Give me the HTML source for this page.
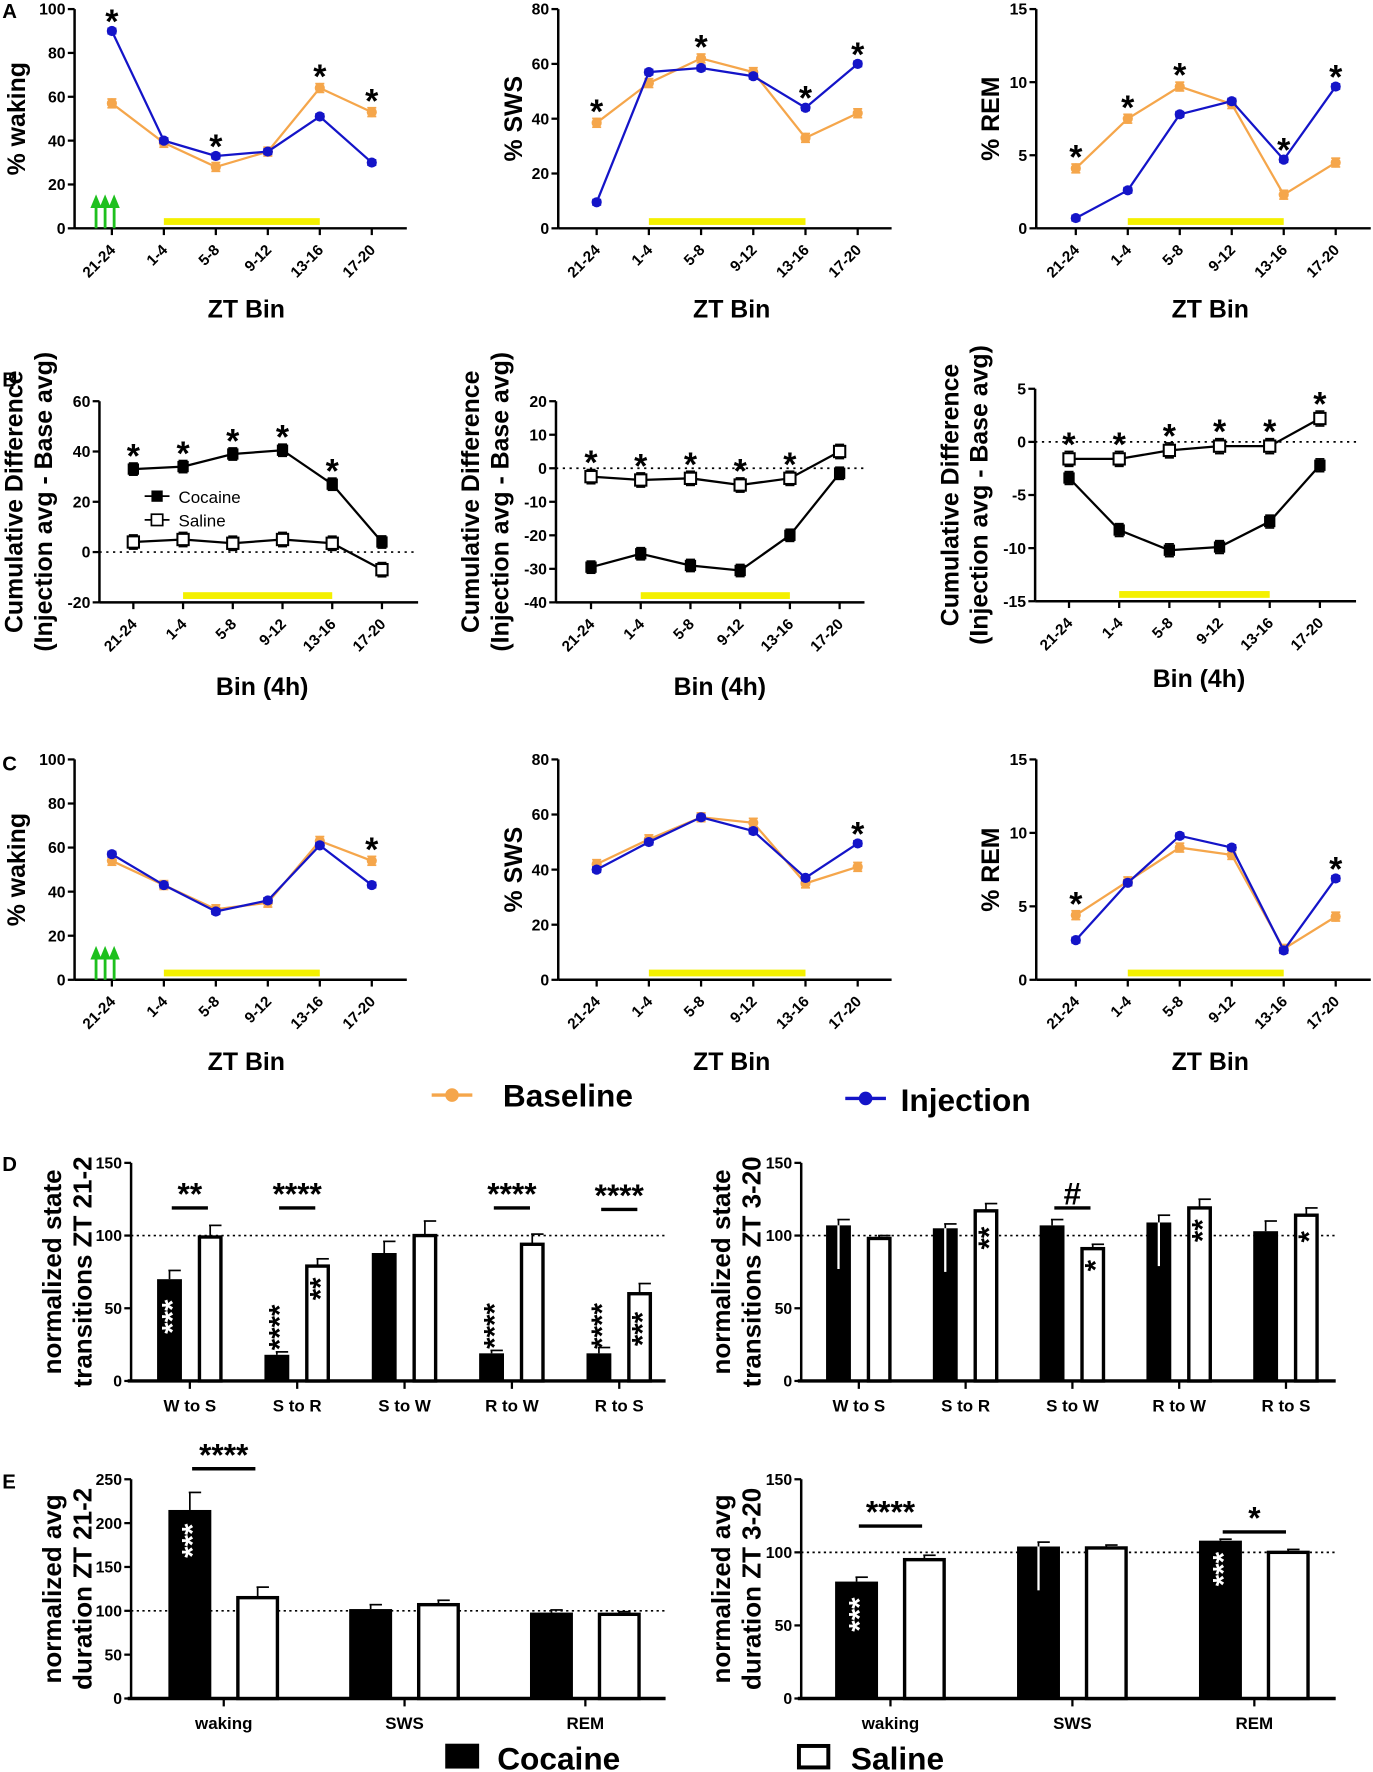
<!DOCTYPE html>
<html><head><meta charset="utf-8">
<style>
html,body{margin:0;padding:0;background:#fff;}
svg{display:block;font-family:"Liberation Sans",Arial,sans-serif;}
</style></head>
<body>
<svg id="fig" width="1373" height="1772" viewBox="0 0 1215 1568" xmlns="http://www.w3.org/2000/svg">
<rect width="1215" height="1568" fill="#fff"/>
</svg>
<script>
// ---------- DATA ----------
const bins = ["21-24","1-4","5-8","9-12","13-16","17-20"];
// Panel A
const aWakeBase = [57,39,28,35,64,53];
const aWakeInj  = [90,40,33,35,51,30];
const aSwsBase  = [38.5,53,62,57,33,42];
const aSwsInj   = [9.5,57,58.5,55.5,44,60];
const aRemBase  = [4.1,7.5,9.7,8.5,2.3,4.5];
const aRemInj   = [0.7,2.6,7.8,8.7,4.7,9.7];
const aWakeStars = [0,2,4,5];
const aSwsStars  = [0,2,4,5];
const aRemStars  = [0,1,2,4,5];
// Panel B
const bWakeCoc = [33,34,39,40.5,27,4];
const bWakeSal = [4,5,3.5,5,3.5,-7];
const bSwsCoc  = [-29.5,-25.5,-29,-30.5,-20,-1.5];
const bSwsSal  = [-2.5,-3.5,-3,-5,-3,5];
const bRemCoc  = [-3.4,-8.3,-10.2,-9.9,-7.5,-2.2];
const bRemSal  = [-1.6,-1.6,-0.8,-0.4,-0.4,2.2];
const bWakeStars = [0,1,2,3,4];
const bSwsStars  = [0,1,2,3,4];
const bRemStars  = [0,1,2,3,4,5];
// Panel C
const cWakeBase = [54,43,32,35,63,54];
const cWakeInj  = [57,43,31,36,61,43];
const cSwsBase  = [42,51,59,57,35,41];
const cSwsInj   = [40,50,59,54,37,49.5];
const cRemBase  = [4.4,6.7,9.0,8.5,2.1,4.3];
const cRemInj   = [2.7,6.6,9.8,9.0,2.0,6.9];
const cWakeStars = [5];
const cSwsStars  = [5];
const cRemStars  = [0,5];
// Panel D
const transCats = ["W to S","S to R","S to W","R to W","R to S"];
const d1Coc = [70,18,88,19,19];
const d1CocErr = [6,2,8,2,4];
const d1Sal = [99,79,100,94,60];
const d1SalErr = [8,5,10,7,7];
const d2Coc = [107,105,107,109,103];
const d2CocErr = [4,3,4,5,7];
const d2Sal = [98,117,91,119,114];
const d2SalErr = [2,5,3,6,5];
// Panel E
const stateCats = ["waking","SWS","REM"];
const e1Coc = [215,102,98];
const e1CocErr = [20,5,3];
const e1Sal = [115,107,96];
const e1SalErr = [12,5,3];
const e2Coc = [80,104,108];
const e2CocErr = [3,3,1];
const e2Sal = [95,103,100];
const e2SalErr = [3,2,2];

// ---------- HELPERS ----------
const NS="http://www.w3.org/2000/svg";
const svg=document.getElementById('fig');
function mk(tag,attrs,parent,text){
  const e=document.createElementNS(NS,tag);
  for(const k in attrs)e.setAttribute(k,attrs[k]);
  if(text!==undefined)e.textContent=text;
  (parent||svg).appendChild(e);return e;
}
const ORANGE="#f5a64b", BLUE="#1414c8";

function axes(g,c,ticks,fmt){
  const ys=v=>c.yBot-(v-c.min)/(c.max-c.min)*(c.yBot-c.yTop);
  const ax=mk('line',{x1:c.x0,y1:c.yTop,x2:c.x0,y2:c.yBot,stroke:'#000','stroke-width':2.2},g);
  
  
  ticks.forEach(t=>{
    const y=ys(t);
    mk('line',{x1:c.x0-6,y1:y,x2:c.x0,y2:y,stroke:'#000','stroke-width':2},g);
    const tl=mk('text',{x:c.x0-8,y:y+5,'text-anchor':'end','font-size':14,'font-weight':'bold'},g,fmt?fmt(t):t);
    
    
  });
  return ys;
}

function lineChart(c){
  const g=mk('g',{});
  
  
  const ys=axes(g,c,c.ticks);
  const xs=i=>c.xFirst+i*c.step;
  const xa=mk('line',{x1:c.x0,y1:c.yBot,x2:c.x1,y2:c.yBot,stroke:'#000','stroke-width':2.2},g);
  
  
  if(c.zeroLine){
    const zl=mk('line',{x1:c.x0,y1:ys(0),x2:c.x1,y2:ys(0),stroke:'#000','stroke-width':1.5,'stroke-dasharray':'2,4'},g);
    
    
  }
  bins.forEach((b,i)=>{
    const x=xs(i);
    mk('line',{x1:x,y1:c.yBot,x2:x,y2:c.yBot+6,stroke:'#000','stroke-width':2},g);
    const t=mk('text',{x:x+4,y:c.yBot+20,'text-anchor':'end','font-size':13.5,'font-weight':'bold',transform:`rotate(-45 ${x+4} ${c.yBot+20})`},g,b);
    
    
  });
  const yb=mk('rect',{x:xs(1),y:c.yBot-9,width:xs(4)-xs(1),height:6,fill:'#f4f000'},g);
  
  
  c.series.forEach(s=>{
    const pts=s.data.map((v,i)=>xs(i)+','+ys(v)).join(' ');
    const pl=mk('polyline',{points:pts,fill:'none',stroke:s.color,'stroke-width':2},g);
    
    
    s.data.forEach((v,i)=>{
      const x=xs(i),y=ys(v),e=(c.max-c.min)*s.err;
      mk('line',{x1:x,y1:ys(v+e),x2:x,y2:ys(v-e),stroke:s.color,'stroke-width':1.5},g);
      mk('line',{x1:x-4,y1:ys(v+e),x2:x+4,y2:ys(v+e),stroke:s.color,'stroke-width':1.5},g);
      mk('line',{x1:x-4,y1:ys(v-e),x2:x+4,y2:ys(v-e),stroke:s.color,'stroke-width':1.5},g);
      let m;
      if(s.marker==='circle') m=mk('circle',{cx:x,cy:y,r:4.5,fill:s.color},g);
      else if(s.marker==='fsq') m=mk('rect',{x:x-5,y:y-5,width:10,height:10,fill:'#000'},g);
      else m=mk('rect',{x:x-5,y:y-5,width:10,height:10,fill:'#fff',stroke:'#000','stroke-width':1.8},g);
      
      
    });
  });
  c.stars.forEach(i=>{
    const top=Math.max(...c.series.map(s=>s.data[i]+(c.max-c.min)*s.err));
    const st=mk('text',{x:xs(i),y:ys(top)+4,'text-anchor':'middle','font-size':30,'font-weight':'bold'},g,'*');
    
    
  });
  const cy=(c.yTop+c.yBot)/2;
  c.ytitle.forEach((t,k)=>{
    const x=c.ytx+k*26;
    const yt=mk('text',{x:x,y:c.yty||cy,'text-anchor':'middle','font-size':c.ytSize||22,'font-weight':'bold',transform:`rotate(-90 ${x} ${c.yty||cy})`},g,t);
    
    
  });
  const xt=mk('text',{x:(xs(0)+xs(5))/2+4,y:c.xty,'text-anchor':'middle','font-size':22,'font-weight':'bold'},g,c.xtitle);
  
  
  if(c.arrows){
    [85,93,101].forEach(ax=>{
      mk('line',{x1:ax,y1:c.yBot,x2:ax,y2:c.yBot-22,stroke:'#1ec01e','stroke-width':2.5},g);
      const ar=mk('polygon',{points:`${ax-5},${c.yBot-18} ${ax+5},${c.yBot-18} ${ax},${c.yBot-30}`,fill:'#1ec01e'},g);
      
      
    });
  }
}

function baseSeries(b,i){return [
  {name:'baseline',data:b,color:ORANGE,marker:'circle',err:0.02},
  {name:'injection',data:i,color:BLUE,marker:'circle',err:0.012}];}
function cocSeries(c,s){return [
  {name:'cocaine',data:c,color:'#000',marker:'fsq',err:0.03},
  {name:'saline',data:s,color:'#000',marker:'osq',err:0.035}];}

// Row A
lineChart({name:'chart-a-waking',x0:66,x1:360,yTop:8,yBot:202,min:0,max:100,ticks:[0,20,40,60,80,100],xFirst:99,step:46,series:baseSeries(aWakeBase,aWakeInj),stars:aWakeStars,ytitle:['% waking'],ytx:22,xtitle:'ZT Bin',xty:281,arrows:true});
lineChart({name:'chart-a-sws',x0:494,x1:789,yTop:8,yBot:202,min:0,max:80,ticks:[0,20,40,60,80],xFirst:528,step:46.2,series:baseSeries(aSwsBase,aSwsInj),stars:aSwsStars,ytitle:['% SWS'],ytx:462,xtitle:'ZT Bin',xty:281});
lineChart({name:'chart-a-rem',x0:917,x1:1213,yTop:8,yBot:202,min:0,max:15,ticks:[0,5,10,15],xFirst:952,step:46,series:baseSeries(aRemBase,aRemInj),stars:aRemStars,ytitle:['% REM'],ytx:884,xtitle:'ZT Bin',xty:281});
// Row B
lineChart({name:'chart-b-waking',x0:88,x1:370,yTop:355,yBot:533,min:-20,max:60,ticks:[-20,0,20,40,60],xFirst:118,step:44,series:cocSeries(bWakeCoc,bWakeSal),stars:bWakeStars,ytitle:['Cumulative Difference','(Injection avg - Base avg)'],ytx:20,yty:444,xtitle:'Bin (4h)',xty:615,zeroLine:true});
lineChart({name:'chart-b-sws',x0:492,x1:765,yTop:355,yBot:533,min:-40,max:20,ticks:[-40,-30,-20,-10,0,10,20],xFirst:523,step:44,series:cocSeries(bSwsCoc,bSwsSal),stars:bSwsStars,ytitle:['Cumulative Difference','(Injection avg - Base avg)'],ytx:424,yty:444,xtitle:'Bin (4h)',xty:615,zeroLine:true});
lineChart({name:'chart-b-rem',x0:916,x1:1200,yTop:344,yBot:532,min:-15,max:5,ticks:[-15,-10,-5,0,5],xFirst:946,step:44.4,series:cocSeries(bRemCoc,bRemSal),stars:bRemStars,ytitle:['Cumulative Difference','(Injection avg - Base avg)'],ytx:848,yty:438,xtitle:'Bin (4h)',xty:608,zeroLine:true});
// Row C
lineChart({name:'chart-c-waking',x0:66,x1:360,yTop:672,yBot:867,min:0,max:100,ticks:[0,20,40,60,80,100],xFirst:99,step:46,series:baseSeries(cWakeBase,cWakeInj),stars:cWakeStars,ytitle:['% waking'],ytx:22,xtitle:'ZT Bin',xty:947,arrows:true});
lineChart({name:'chart-c-sws',x0:494,x1:789,yTop:672,yBot:867,min:0,max:80,ticks:[0,20,40,60,80],xFirst:528,step:46.2,series:baseSeries(cSwsBase,cSwsInj),stars:cSwsStars,ytitle:['% SWS'],ytx:462,xtitle:'ZT Bin',xty:947});
lineChart({name:'chart-c-rem',x0:917,x1:1213,yTop:672,yBot:867,min:0,max:15,ticks:[0,5,10,15],xFirst:952,step:46,series:baseSeries(cRemBase,cRemInj),stars:cRemStars,ytitle:['% REM'],ytx:884,xtitle:'ZT Bin',xty:947});

// panel letters
[['A',2,16],['B',2,342],['C',2,682],['D',2,1036],['E',2,1317]].forEach(([l,x,y])=>{
  const t=mk('text',{x:x,y:y,'font-size':18,'font-weight':'bold'},svg,l);
  
  
});

// middle legend
(function(){
  const g=mk('g',{});
  
  
  mk('line',{x1:382,y1:969,x2:418,y2:969,stroke:ORANGE,'stroke-width':3},g);
  mk('circle',{cx:400,cy:969,r:6,fill:ORANGE},g);
  const t1=mk('text',{x:445,y:979,'font-size':28,'font-weight':'bold'},g,'Baseline');
  
  
  mk('line',{x1:748,y1:972,x2:784,y2:972,stroke:BLUE,'stroke-width':3},g);
  mk('circle',{cx:766,cy:972,r:6,fill:BLUE},g);
  const t2=mk('text',{x:797,y:983,'font-size':28,'font-weight':'bold'},g,'Injection');
  
  
})();

// legend inside B1
(function(){
  const g=mk('g',{});
  
  
  mk('line',{x1:128,y1:439,x2:150,y2:439,stroke:'#000','stroke-width':1.5},g);
  mk('rect',{x:134,y:434,width:10,height:10,fill:'#000'},g);
  mk('text',{x:158,y:445,'font-size':15},g,'Cocaine');
  mk('line',{x1:128,y1:460,x2:150,y2:460,stroke:'#000','stroke-width':1.5},g);
  mk('rect',{x:134,y:455,width:10,height:10,fill:'#fff',stroke:'#000','stroke-width':1.5},g);
  mk('text',{x:158,y:466,'font-size':15},g,'Saline');
})();

// ---------- BAR CHARTS ----------
function barChart(c){
  const g=mk('g',{});
  
  
  const ys=axes(g,c,c.ticks);
  const xs=i=>c.xFirst+i*c.step;
  const xa=mk('line',{x1:c.x0-3,y1:c.yBot,x2:c.x1,y2:c.yBot,stroke:'#000','stroke-width':3},g);
  
  
  const rl=mk('line',{x1:c.x0,y1:ys(100),x2:c.x1,y2:ys(100),stroke:'#000','stroke-width':1.5,'stroke-dasharray':'2,3'},g);
  
  
  c.cats.forEach((cat,i)=>{
    const x=xs(i);
    mk('line',{x1:x,y1:c.yBot,x2:x,y2:c.yBot+7,stroke:'#000','stroke-width':2},g);
    const t=mk('text',{x:x,y:c.yBot+27,'text-anchor':'middle','font-size':15,'font-weight':'bold'},g,cat);
    
    
    const cx=x-c.off, sx=x+c.off, w=c.bw;
    const eb=(v,e,bx)=>{
      mk('line',{x1:bx,y1:ys(v),x2:bx,y2:ys(v+e),stroke:'#000','stroke-width':1.5},g);
      mk('line',{x1:bx-1,y1:ys(v+e),x2:bx+10,y2:ys(v+e),stroke:'#000','stroke-width':1.5},g);
    };
    eb(c.coc[i],c.cocErr[i],cx);
    const b1=mk('rect',{x:cx-w/2,y:ys(c.coc[i]),width:w,height:c.yBot-ys(c.coc[i]),fill:'#000'},g);
    
    
    if(c.whiteErr && c.whiteErr.includes(i)){
      mk('line',{x1:cx,y1:ys(c.coc[i]),x2:cx,y2:ys(c.coc[i]-30),stroke:'#fff','stroke-width':2},g);
    }
    eb(c.sal[i],c.salErr[i],sx);
    const b2=mk('rect',{x:sx-w/2+1.5,y:ys(c.sal[i]),width:w-3,height:c.yBot-ys(c.sal[i]),fill:'#fff',stroke:'#000','stroke-width':3},g);
    
    
  });
  c.inStars.forEach(s=>{
    const bx=xs(s.i)+(s.sal?c.off:-c.off);
    const v=s.sal?c.sal[s.i]:c.coc[s.i];
    // anchor point along bar axis
    const y= s.above ? ys(v)-4 : ys(v)+(s.drop||10);
    const anchor = s.above ? 'start' : 'end';
    const t=mk('text',{x:bx,y:y,'text-anchor':anchor,'dominant-baseline':'central','font-size':26,'font-weight':'bold',fill:s.white?'#fff':'#000',transform:`rotate(-90 ${bx} ${y}) translate(0 3)`},g,s.txt);
    
    
  });
  c.brackets.forEach(b=>{
    const x=xs(b.i), y=ys(b.v);
    mk('line',{x1:x-c.off+2,y1:y,x2:x+c.off-2,y2:y,stroke:'#000','stroke-width':3},g);
    const t=mk('text',{x:x,y:y-3,'text-anchor':'middle','font-size':28,'font-weight':'bold'},g,b.txt);
    
    
  });
  const cy=(c.yTop+c.yBot)/2;
  c.ytitle.forEach((t,k)=>{
    const x=c.ytx+k*27;
    const yt=mk('text',{x:x,y:cy,'text-anchor':'middle','font-size':23,'font-weight':'bold',transform:`rotate(-90 ${x} ${cy})`},g,t);
    
    
  });
}

barChart({name:'chart-d-transitions-zt21-2',x0:116,x1:589,yTop:1029,yBot:1222,min:0,max:150,ticks:[0,50,100,150],xFirst:168,step:95,off:18,bw:22,cats:transCats,coc:d1Coc,cocErr:d1CocErr,sal:d1Sal,salErr:d1SalErr,
  ytitle:['normalized state','transitions ZT 21-2'],ytx:54,
  inStars:[{i:0,txt:'***',white:true,drop:18},{i:1,txt:'****',above:true},{i:1,sal:true,txt:'**'},{i:3,txt:'****',above:true},{i:4,txt:'****',above:true},{i:4,sal:true,txt:'***',drop:16}],
  brackets:[{i:0,v:119,txt:'**'},{i:1,v:119,txt:'****'},{i:3,v:119,txt:'****'},{i:4,v:118,txt:'****'}]});
barChart({name:'chart-d-transitions-zt3-20',x0:709,x1:1182,yTop:1029,yBot:1222,min:0,max:150,ticks:[0,50,100,150],xFirst:760,step:94.5,off:18,bw:22,cats:transCats,coc:d2Coc,cocErr:d2CocErr,sal:d2Sal,salErr:d2SalErr,
  ytitle:['normalized state','transitions ZT 3-20'],ytx:646,whiteErr:[0,1,3],
  inStars:[{i:1,sal:true,txt:'**',drop:14},{i:2,sal:true,txt:'*',drop:10},{i:3,sal:true,txt:'**',drop:10},{i:4,sal:true,txt:'*',drop:14}],
  brackets:[{i:2,v:119,txt:'#'}]});
barChart({name:'chart-e-duration-zt21-2',x0:116,x1:589,yTop:1309,yBot:1503,min:0,max:250,ticks:[0,50,100,150,200,250],xFirst:198,step:160,off:30,bw:38,cats:stateCats,coc:e1Coc,cocErr:e1CocErr,sal:e1Sal,salErr:e1SalErr,
  ytitle:['normalized avg','duration ZT 21-2'],ytx:54,
  inStars:[{i:0,txt:'***',white:true,drop:12}],
  brackets:[{i:0,v:262,txt:'****'}]});
barChart({name:'chart-e-duration-zt3-20',x0:709,x1:1182,yTop:1309,yBot:1503,min:0,max:150,ticks:[0,50,100,150],xFirst:788,step:161,off:30,bw:38,cats:stateCats,coc:e2Coc,cocErr:e2CocErr,sal:e2Sal,salErr:e2SalErr,
  ytitle:['normalized avg','duration ZT 3-20'],ytx:646,whiteErr:[1],
  inStars:[{i:0,txt:'***',white:true,drop:14},{i:2,txt:'***',white:true,drop:10}],
  brackets:[{i:0,v:118,txt:'****'},{i:2,v:114,txt:'*'}]});

// bottom legend
(function(){
  const g=mk('g',{});
  
  
  mk('rect',{x:394,y:1543,width:30,height:22,fill:'#000'},g);
  const t1=mk('text',{x:440,y:1566,'font-size':28,'font-weight':'bold'},g,'Cocaine');
  
  
  mk('rect',{x:707,y:1545,width:26,height:19,fill:'#fff',stroke:'#000','stroke-width':3.5},g);
  const t2=mk('text',{x:753,y:1566,'font-size':28,'font-weight':'bold'},g,'Saline');
  
  
})();
</script>
</body></html>
